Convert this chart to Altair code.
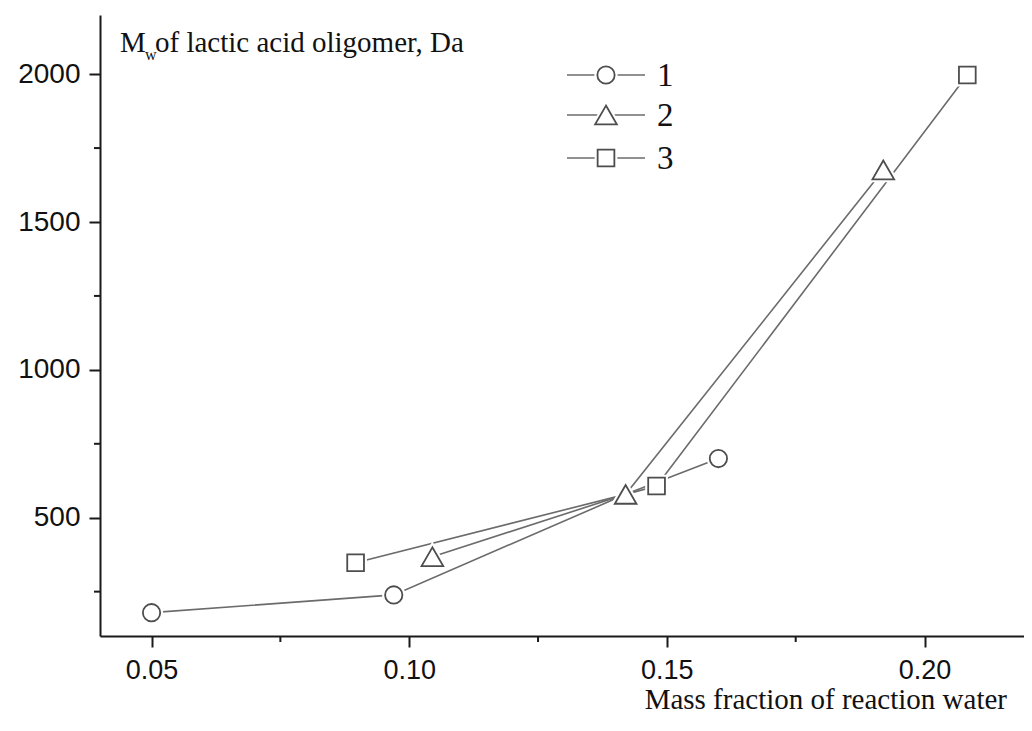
import altair as alt
import pandas as pd

# ---- data ----
s1_x = [0.050, 0.097, 0.142, 0.160]
s1_y = [179, 239, 579, 700]
s1_mark = [True, True, False, True]

s2_x = [0.1045, 0.142, 0.192]
s2_y = [368, 579, 1676]
s2_mark = [True, True, True]

s3_x = [0.0896, 0.142, 0.148, 0.2083]
s3_y = [348, 579, 607, 1997]
s3_mark = [True, False, True, True]

series_names = ["1", "2", "3"]
series_shapes = ["circle", "triangle-up", "square"]
series_sizes = [300, 470, 280]

x_major = [0.05, 0.10, 0.15, 0.20]
x_minor = [0.075, 0.125, 0.175]
y_major = [500, 1000, 1500, 2000]
y_minor = [250, 750, 1250, 1750]

rows = []
for name, sz, xs, ys, ms in zip(series_names, series_sizes, [s1_x, s2_x, s3_x],
                                [s1_y, s2_y, s3_y], [s1_mark, s2_mark, s3_mark]):
    for i, (xv, yv, mv) in enumerate(zip(xs, ys, ms)):
        rows.append({"series": name, "x": xv, "y": yv, "marker": mv, "order": i,
                     "msize": sz})
df = pd.DataFrame(rows)
df_marks = df[df["marker"]].copy()

W, H = 924, 621
LINE = "#6b6b6b"
MARK = "#4d4d4d"
AX = "#1a1a1a"

xscale = alt.Scale(domain=[0.04, 0.2193], nice=False, zero=False)
yscale = alt.Scale(domain=[100, 2200], nice=False, zero=False)
shape_scale = alt.Scale(domain=series_names, range=series_shapes)

xenc = alt.X("x:Q", scale=xscale,
             axis=alt.Axis(values=x_major, format=".2f", title=None, grid=False,
                           labelFont="Liberation Sans", labelFontSize=27, labelColor="#111",
                           tickSize=11, tickWidth=2, tickColor=AX, domainColor=AX,
                           domainWidth=2, labelPadding=10))
yenc = alt.Y("y:Q", scale=yscale,
             axis=alt.Axis(values=y_major, format="d", title=None, grid=False,
                           labelFont="Liberation Sans", labelFontSize=28, labelColor="#111",
                           tickSize=11, tickWidth=2, tickColor=AX, domainColor=AX,
                           domainWidth=2, labelPadding=9))

lines = alt.Chart(df).mark_line(color=LINE, strokeWidth=1.6).encode(
    x=xenc, y=yenc, detail="series:N", order="order:Q")

halo = alt.Chart(df_marks).mark_point(filled=True, color="white", stroke="white",
                                      strokeWidth=6, opacity=1).encode(
    x="x:Q", y="y:Q",
    shape=alt.Shape("series:N", scale=shape_scale, legend=None),
    size=alt.Size("msize:Q", scale=None, legend=None))

pts = alt.Chart(df_marks).mark_point(filled=False, color=MARK, strokeWidth=1.8,
                                     opacity=1).encode(
    x="x:Q", y="y:Q",
    shape=alt.Shape("series:N", scale=shape_scale, legend=None),
    size=alt.Size("msize:Q", scale=None, legend=None))

# minor ticks
df_xminor = pd.DataFrame({"x": x_minor})
df_yminor = pd.DataFrame({"y": y_minor})
xminor = alt.Chart(df_xminor).mark_rule(color=AX, strokeWidth=2, clip=False).encode(
    x="x:Q", y=alt.value(H), y2=alt.value(H + 6))
yminor = alt.Chart(df_yminor).mark_rule(color=AX, strokeWidth=2, clip=False).encode(
    y="y:Q", x=alt.value(-6), x2=alt.value(0))

# axis titles (as text)
one = pd.DataFrame({"a": [0]})
t_M = alt.Chart(one).mark_text(text="M", font="Liberation Serif", fontSize=29,
                               align="left", baseline="alphabetic", color="#111").encode(
    x=alt.value(20), y=alt.value(37))
t_w = alt.Chart(one).mark_text(text="w", font="Liberation Serif", fontSize=16,
                               align="left", baseline="alphabetic", color="#111").encode(
    x=alt.value(45), y=alt.value(45))
t_rest = alt.Chart(one).mark_text(text="of lactic acid oligomer, Da", font="Liberation Serif",
                                  fontSize=29, align="left", baseline="alphabetic",
                                  color="#111").encode(x=alt.value(55), y=alt.value(37))
t_x = alt.Chart(one).mark_text(text="Mass fraction of reaction water", font="Liberation Serif",
                               fontSize=29, align="right", baseline="alphabetic",
                               color="#111").encode(x=alt.value(907), y=alt.value(694))

# legend
leg_layers = []
leg_rows_y = [60, 100, 143]
for name, shp, sz, ly in zip(series_names, series_shapes, series_sizes, leg_rows_y):
    leg_layers.append(alt.Chart(one).mark_rule(color=LINE, strokeWidth=1.6).encode(
        x=alt.value(467), x2=alt.value(545), y=alt.value(ly)))
    leg_layers.append(alt.Chart(one).mark_point(shape=shp, filled=True, color="white",
                                                stroke="white", strokeWidth=6, size=sz,
                                                opacity=1).encode(
        x=alt.value(506), y=alt.value(ly)))
    leg_layers.append(alt.Chart(one).mark_point(shape=shp, filled=False, color=MARK,
                                                strokeWidth=1.8, size=sz, opacity=1).encode(
        x=alt.value(506), y=alt.value(ly)))
    leg_layers.append(alt.Chart(one).mark_text(text=name, font="Liberation Serif", fontSize=33,
                                               align="left", baseline="middle",
                                               color="#111").encode(
        x=alt.value(557), y=alt.value(ly + 1)))

chart = alt.layer(lines, halo, pts, xminor, yminor, t_M, t_w, t_rest, t_x,
                  *leg_layers).properties(
    width=W, height=H,
    autosize=alt.AutoSizeParams(type="none"),
    padding={"left": 92, "top": 7, "right": 0, "bottom": 80},
    background="white",
).configure_view(stroke=None)

chart.save("out.html", embed_options={"renderer": "svg", "actions": False})
